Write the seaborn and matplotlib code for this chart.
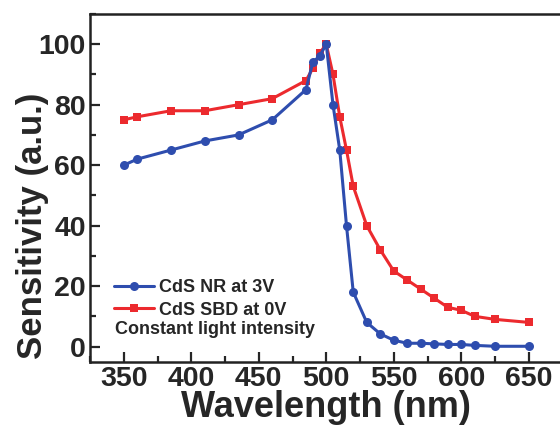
import matplotlib
matplotlib.use("Agg")
import matplotlib.pyplot as plt
import seaborn as sns
import pandas as pd
from matplotlib.ticker import MultipleLocator
from matplotlib.lines import Line2D

wl_nr = [350, 360, 385, 410, 435, 460, 485, 490, 495, 500, 505, 510, 515, 520,
         530, 540, 550, 560, 570, 580, 590, 600, 610, 625, 650]
sens_nr = [60, 62, 65, 68, 70, 75, 85, 94, 96, 100, 80, 65, 40, 18,
           8, 4.2, 2.1, 1.1, 1.1, 0.9, 0.7, 0.7, 0.4, 0.1, 0.1]
wl_sbd = [350, 360, 385, 410, 435, 460, 485, 490, 495, 500, 505, 510, 515, 520,
          530, 540, 550, 560, 570, 580, 590, 600, 610, 625, 650]
sens_sbd = [75, 76, 78, 78, 80, 82, 88, 92, 97, 100, 90, 76, 65, 53,
            40, 32, 25, 22, 19, 16, 13, 12, 10, 9, 8]
labels = ["CdS NR at 3V", "CdS SBD at 0V"]
note = "Constant light intensity"
xticks = [350, 400, 450, 500, 550, 600, 650]
yticks = [0, 20, 40, 60, 80, 100]

blue = "#2E4DAE"
red = "#EC2A2E"

sns.set_style("ticks")
plt.rcParams['font.family'] = ['Liberation Sans', 'DejaVu Sans']
plt.rcParams['font.weight'] = 'bold'

fig = plt.figure(figsize=(5.6, 4.25), dpi=100)
W, H = 560, 425
x0, x1, yt, yb = 90, 562.5, 14, 361.7
ax = fig.add_axes([x0 / W, (H - yb) / H, (x1 - x0) / W, (yb - yt) / H])

df1 = pd.DataFrame({"wl": wl_nr, "s": sens_nr})
df2 = pd.DataFrame({"wl": wl_sbd, "s": sens_sbd})
sns.lineplot(data=df1, x="wl", y="s", ax=ax, color=blue, marker="o",
             markersize=6.5, markeredgewidth=0, linewidth=2.2, zorder=3)
sns.lineplot(data=df2, x="wl", y="s", ax=ax, color=red, marker="s",
             markersize=6, markeredgewidth=0, linewidth=2.2, zorder=2)

ax.set_xlim(325, 675)
ax.set_ylim(-5, 110)
ax.set_xticks(xticks)
ax.set_yticks(yticks)
ax.xaxis.set_minor_locator(MultipleLocator(25))
ax.yaxis.set_minor_locator(MultipleLocator(10))
ax.tick_params(which="both", direction="in", top=False, right=False, width=1.6)
ax.tick_params(which="major", length=7, labelsize=20.5, pad=3)
ax.tick_params(which="minor", length=4)
for lab in ax.get_xticklabels() + ax.get_yticklabels():
    lab.set_fontweight("bold")
for sp in ax.spines.values():
    sp.set_linewidth(1.8)
    sp.set_color("#222222")

ax.set_xlabel("Wavelength (nm)", fontsize=26, fontweight="bold", labelpad=-1)
ax.set_ylabel("Sensitivity (a.u.)", fontsize=25, fontweight="bold")
ax.yaxis.set_label_coords((49 - x0) / (x1 - x0), (yb - 226) / (yb - yt))

handles = [Line2D([], [], color=blue, marker="o", markersize=6.5, markeredgewidth=0, linewidth=2.2),
           Line2D([], [], color=red, marker="s", markersize=6, markeredgewidth=0, linewidth=2.2)]
leg = ax.legend(handles, labels, loc="upper left", frameon=False,
                bbox_to_anchor=((115 - x0 - 8) / (x1 - x0), (yb - 272) / (yb - yt)),
                prop={"weight": "bold", "size": 13}, handlelength=2.2,
                handletextpad=0.3, labelspacing=0.3, borderaxespad=0)
ax.text((115 - x0) / (x1 - x0), (yb - 330) / (yb - yt), note, transform=ax.transAxes,
        fontsize=13, fontweight="bold", va="center", ha="left")

fig.savefig("out.png", dpi=100)
